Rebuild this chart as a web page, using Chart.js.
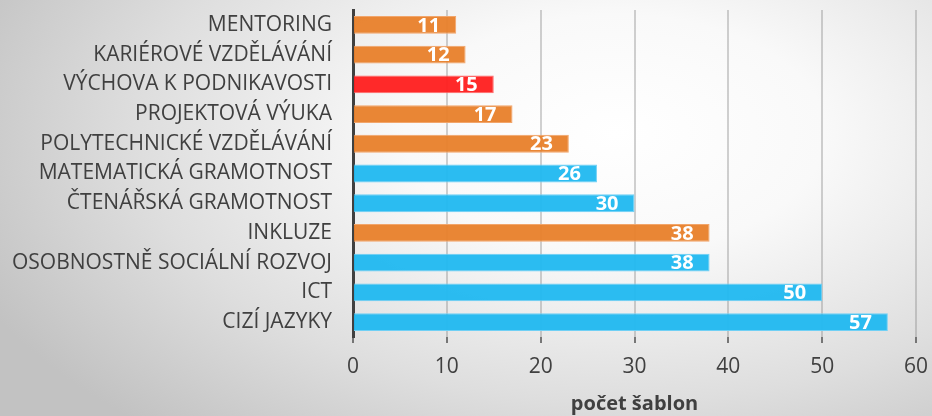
<!DOCTYPE html>
<html>
<head>
<meta charset="utf-8">
<script src="https://cdn.jsdelivr.net/npm/chart.js@4"></script>
<style>
  html, body { margin: 0; padding: 0; }
  body {
    width: 932px; height: 416px; overflow: hidden;
    background: radial-gradient(ellipse 75% 95% at 66% 32%, #ffffff 0%, #f9f9f9 30%, #dedede 68%, #c2c2c2 100%);
  }
  #wrap { position: relative; width: 932px; height: 416px; }
</style>
</head>
<body>
<div id="wrap"><canvas id="sablony"></canvas></div>
<script>
const categories = [
  'MENTORING',
  'KARIÉROVÉ VZDĚLÁVÁNÍ',
  'VÝCHOVA K PODNIKAVOSTI',
  'PROJEKTOVÁ VÝUKA',
  'POLYTECHNICKÉ VZDĚLÁVÁNÍ',
  'MATEMATICKÁ GRAMOTNOST',
  'ČTENÁŘSKÁ GRAMOTNOST',
  'INKLUZE',
  'OSOBNOSTNĚ SOCIÁLNÍ ROZVOJ',
  'ICT',
  'CIZÍ JAZYKY'
];
const counts = [11, 12, 15, 17, 23, 26, 30, 38, 38, 50, 57];
// o = orange, r = red, b = blue
const groups = ['o', 'o', 'r', 'o', 'o', 'b', 'b', 'o', 'b', 'b', 'b'];
const xTicks = [0, 10, 20, 30, 40, 50, 60];

const fills = { o: 'rgba(232, 128, 42, 0.95)', r: 'rgba(255, 30, 30, 0.95)', b: 'rgba(32, 184, 240, 0.95)' };
const edges = { o: '#f2a56a', r: '#ff6a6a', b: '#70d0f5' };

// white value text inside the end of each bar
const valueLabels = {
  id: 'valueLabels',
  afterDatasetsDraw(chart) {
    const ctx = chart.ctx;
    const meta = chart.getDatasetMeta(0);
    ctx.save();
    ctx.font = 'bold 20px "Open Sans"';
    ctx.fillStyle = '#ffffff';
    ctx.textAlign = 'right';
    ctx.textBaseline = 'middle';
    meta.data.forEach((bar, i) => {
      ctx.fillText(String(counts[i]), bar.x - 16, bar.y + 1);
    });
    ctx.restore();
  }
};

// fixed scale sizes, no extra edge padding from the tick labels
const noEdgePadding = s => {
  s.paddingTop = 0;
  s.paddingBottom = 0;
  s.paddingLeft = 0;
  s.paddingRight = 0;
};

new Chart(document.getElementById('sablony'), {
  type: 'bar',
  data: {
    labels: categories,
    datasets: [{
      data: counts,
      backgroundColor: groups.map(g => fills[g]),
      borderColor: groups.map(g => edges[g]),
      borderWidth: 1,
      borderSkipped: 'left',
      categoryPercentage: 0.6,
      barPercentage: 1
    }]
  },
  options: {
    indexAxis: 'y',
    responsive: true,
    maintainAspectRatio: false,
    animation: false,
    layout: { padding: { top: 10, right: 16, left: 0, bottom: 0 } },
    plugins: {
      legend: { display: false },
      tooltip: { enabled: false }
    },
    scales: {
      x: {
        min: 0,
        max: 60,
        afterBuildTicks: s => { s.ticks = xTicks.map(v => ({ value: v })); },
        afterFit: s => { s.height = 79; noEdgePadding(s); },
        grid: {
          color: 'rgba(140, 140, 140, 0.4)',
          lineWidth: 2,
          drawTicks: true,
          tickLength: 6,
          tickColor: 'rgba(90, 90, 90, 0.8)'
        },
        border: { display: false },
        ticks: {
          color: '#404040',
          font: { family: '"Open Sans"', size: 21 },
          padding: 11
        },
        title: {
          display: true,
          text: 'počet šablon',
          color: '#404040',
          font: { family: '"Open Sans"', size: 20, weight: 'bold' },
          padding: { top: 0, bottom: 0 }
        }
      },
      y: {
        afterFit: s => { s.width = 353; noEdgePadding(s); },
        grid: { display: false, drawTicks: false },
        border: { display: true, color: '#404040', width: 3 },
        ticks: {
          autoSkip: false,
          color: '#404040',
          font: { family: '"Open Sans"', size: 21 },
          padding: 21
        }
      }
    }
  },
  plugins: [valueLabels]
});
</script>
</body>
</html>
